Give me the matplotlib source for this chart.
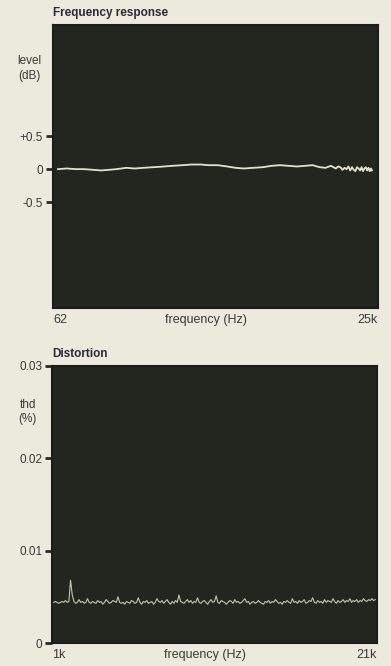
import numpy as np
import matplotlib.pyplot as plt

# frequency response, level in dB (log frequency axis)
fr_freq = [68, 80, 95, 110, 130, 150, 175, 200, 240, 280, 330, 400, 480, 560,
           680, 800, 950, 1100, 1300, 1550, 1800, 2100, 2500, 3000, 3500, 4100,
           4800, 5600, 6500, 7500, 8500, 9500, 10500, 11000, 11500, 12000,
           12500, 13000, 13500, 14000, 14500, 15000, 15500, 16000, 16500,
           17000, 17500, 18000, 18500, 19000, 19500, 20000, 20500, 21000,
           21500, 22000, 22400]
fr_level = [0.0, 0.01, 0.0, 0.0, -0.01, -0.02, -0.01, 0.0, 0.02, 0.01, 0.02,
            0.03, 0.04, 0.05, 0.06, 0.07, 0.07, 0.06, 0.06, 0.04, 0.02, 0.01,
            0.02, 0.03, 0.05, 0.06, 0.05, 0.04, 0.05, 0.06, 0.03, 0.02, 0.05,
            0.03, 0.01, 0.04, 0.03, -0.01, 0.02, 0.0, 0.04, -0.02, 0.03, -0.01,
            -0.03, 0.03, 0.01, -0.02, 0.03, -0.03, 0.01, 0.03, -0.02, 0.02,
            -0.03, 0.01, -0.02]

# distortion, thd in %, 1.1k..20.9k in 100 Hz steps
thd_vals = [44, 45, 44, 43, 44, 45, 44, 46, 44, 45, 68, 52, 45, 43, 44, 47, 44,
            45, 43, 44, 48, 44, 43, 45, 44, 43, 46, 44, 45, 42, 44, 47, 45, 43,
            44, 46, 45, 44, 50, 44, 43, 44, 42, 45, 44, 43, 46, 45, 43, 44, 49,
            44, 42, 45, 44, 46, 43, 44, 45, 42, 44, 48, 45, 44, 46, 43, 45, 47,
            44, 42, 45, 43, 46, 44, 52, 45, 44, 43, 45, 47, 44, 46, 43, 45, 44,
            49, 44, 43, 45, 46, 44, 42, 45, 47, 44, 45, 51, 44, 43, 46, 45, 44,
            42, 44, 46, 45, 43, 47, 44, 45, 43, 44, 46, 48, 44, 45, 42, 44, 45,
            43, 44, 46, 44, 43, 42, 45, 44, 46, 43, 45, 44, 47, 45, 43, 44, 42,
            45, 44, 46, 44, 43, 48, 44, 45, 43, 46, 44, 45, 47, 43, 44, 46, 45,
            49, 44, 43, 46, 44, 45, 43, 47, 44, 46, 45, 44, 48, 45, 43, 46, 44,
            45, 47, 44, 46, 45, 48, 44, 46, 45, 47, 44, 46, 45, 48, 46, 45, 47,
            46, 48, 46, 47]
thd = np.array(thd_vals) / 10000.0
thd_freq = np.linspace(1100, 20900, len(thd))

paper = '#ece9dd'
panel = '#23251f'
ink = '#3a3a3a'
plt.rcParams['font.family'] = ['Liberation Sans', 'DejaVu Sans']

fig = plt.figure(figsize=(3.91, 6.66), dpi=100)
fig.patch.set_facecolor(paper)

def style(ax):
    ax.set_facecolor(panel)
    for s in ax.spines.values():
        s.set_color('#1c1d18')
        s.set_linewidth(1.5)
    ax.tick_params(axis='y', length=5, width=2, color='#2a2a2a', pad=2,
                   labelsize=8.5, labelcolor=ink)
    ax.tick_params(axis='x', length=0, pad=4, labelsize=9, labelcolor=ink)

# ---- Frequency response ----
ax1 = fig.add_axes([0.1355, 0.5375, 0.831, 0.425])
style(ax1)
ax1.plot(fr_freq, fr_level, color='#e2e2cc', lw=1.3)
ax1.set_xscale('log')
ax1.set_xlim(62, 25000)
ax1.set_ylim(-2.1, 2.18)
ax1.set_yticks([0.5, 0, -0.5])
ax1.set_yticklabels(['+0.5', '0', '-0.5'])
ax1.set_xticks([62, 25000])
ax1.set_xticks([], minor=True)
ax1.set_xticklabels(['62', '25k'])
lbls = ax1.get_xticklabels()
lbls[0].set_ha('left')
lbls[1].set_ha('right')
ax1.text(0.47, -0.043, 'frequency (Hz)', transform=ax1.transAxes,
         ha='center', va='center', fontsize=9, color=ink)
ax1.text(-0.072, 0.845, 'level\n(dB)', transform=ax1.transAxes,
         ha='center', va='center', fontsize=8.5, color=ink, linespacing=1.3)
ax1.text(0.0, 1.02, 'Frequency response', transform=ax1.transAxes,
         ha='left', va='bottom', fontsize=8.5, fontweight='bold', color='#2b2b3a')

# ---- Distortion ----
ax2 = fig.add_axes([0.133, 0.0345, 0.831, 0.416])
style(ax2)
ax2.plot(thd_freq, thd, color='#c4c5ad', lw=0.8)
ax2.set_xlim(1000, 21000)
ax2.set_ylim(0, 0.03)
ax2.set_yticks([0, 0.01, 0.02, 0.03])
ax2.set_yticklabels(['0', '0.01', '0.02', '0.03'])
ax2.set_xticks([1000, 21000])
ax2.set_xticklabels(['1k', '21k'])
lbls = ax2.get_xticklabels()
lbls[0].set_ha('left')
lbls[1].set_ha('right')
ax2.text(0.47, -0.043, 'frequency (Hz)', transform=ax2.transAxes,
         ha='center', va='center', fontsize=9, color=ink)
ax2.text(-0.075, 0.834, 'thd\n(%)', transform=ax2.transAxes,
         ha='center', va='center', fontsize=8.5, color=ink, linespacing=1.3)
ax2.text(0.0, 1.02, 'Distortion', transform=ax2.transAxes,
         ha='left', va='bottom', fontsize=8.5, fontweight='bold', color='#2b2b3a')

fig.savefig('out.png', dpi=100, facecolor=paper)
